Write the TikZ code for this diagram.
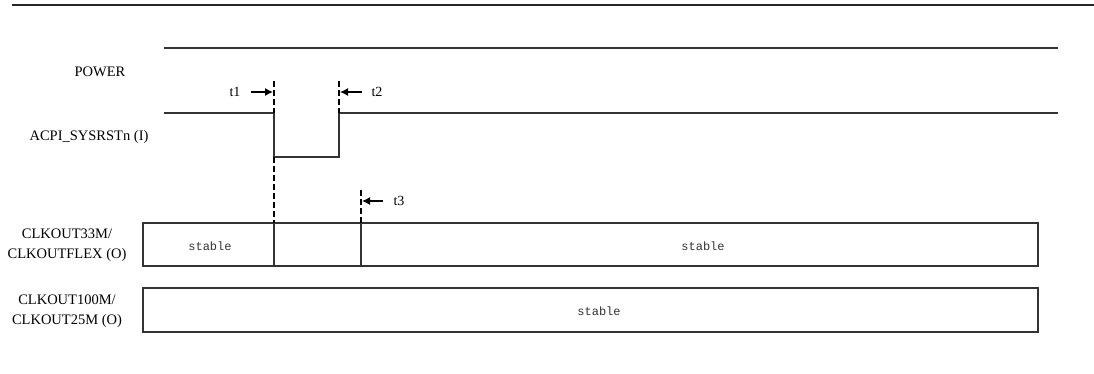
\documentclass[tikz,border=0pt]{standalone}
\usepackage{fontspec}
\setmainfont{Liberation Serif}
\newfontfamily\statefont{Liberation Mono}
\usetikzlibrary{arrows.meta}
\tikzset{
    wave/.style={line width=1.1pt, draw=black!80},
    edgemark/.style={line width=2pt, dash pattern=on 6pt off 3pt},
    gaparrow/.style={-{Latex[length=8pt,width=8pt]}, line width=1.3pt},
    siglabel/.style={font=\fontsize{14.5}{20}\selectfont, align=center, inner sep=0pt},
    tlabel/.style={font=\fontsize{14}{16}\selectfont, inner sep=0pt},
    statetext/.style={font=\statefont\fontsize{12}{14}\selectfont, text=black!80, inner sep=0pt}
}
\begin{document}
\begin{tikzpicture}
    \useasboundingbox (0pt,0pt) rectangle (1094pt,-373pt);
    % page rule
    \draw[line width=1.4pt, draw=black!85] (12pt,-5pt) -- (1094pt,-5pt);
    % signal names
    \node[siglabel] (power) at (100pt,-72pt) {POWER};
    \node[siglabel] (acpi) at (89pt,-137pt) {ACPI\_SYSRSTn (I)};
    \node[siglabel] (clk33) at (67pt,-245pt) {CLKOUT33M/\\CLKOUTFLEX (O)};
    \node[siglabel] (clk100) at (67pt,-311pt) {CLKOUT100M/\\CLKOUT25M (O)};
    % edges
    \coordinate (fallhi) at (274pt,-113pt);
    \coordinate (falllo) at (274pt,-157pt);
    \coordinate (riselo) at (339pt,-157pt);
    \coordinate (risehi) at (339pt,-113pt);
    % POWER
    \draw[wave] (164pt,-48pt) -- (1058pt,-48pt);
    % ACPI_SYSRSTn
    \draw[wave] (164pt,-113pt) -- (fallhi) -- (falllo) -- (riselo) -- (risehi) -- (1058pt,-113pt);
    % CLKOUT33M
    \draw[wave] (143pt,-223pt) rectangle (1038pt,-266pt);
    \draw[wave] (274pt,-223pt) -- (274pt,-266pt);
    \draw[wave] (361pt,-223pt) -- (361pt,-266pt);
    \node[statetext] (st1) at (210pt,-246pt) {stable};
    \node[statetext] (st2) at (703pt,-246pt) {stable};
    % CLKOUT100M
    \draw[wave] (143pt,-288pt) rectangle (1038pt,-332pt);
    \node[statetext] (st3) at (599pt,-311pt) {stable};
    % timing marks
    \draw[edgemark] (274pt,-81pt) -- (fallhi);
    \draw[edgemark] (falllo) -- (274pt,-223pt);
    \draw[edgemark] (339pt,-81pt) -- (risehi);
    \draw[edgemark] (361pt,-190pt) -- (361pt,-223pt);
    \node[tlabel] (t1) at (235pt,-92pt) {t1};
    \node[tlabel] (t2) at (377pt,-92pt) {t2};
    \node[tlabel] (t3) at (399pt,-201pt) {t3};
    \draw[gaparrow] (251pt,-92pt) -- (273pt,-92pt);
    \draw[gaparrow] (362pt,-92pt) -- (340pt,-92pt);
    \draw[gaparrow] (383pt,-201pt) -- (362pt,-201pt);
\end{tikzpicture}
\end{document}
